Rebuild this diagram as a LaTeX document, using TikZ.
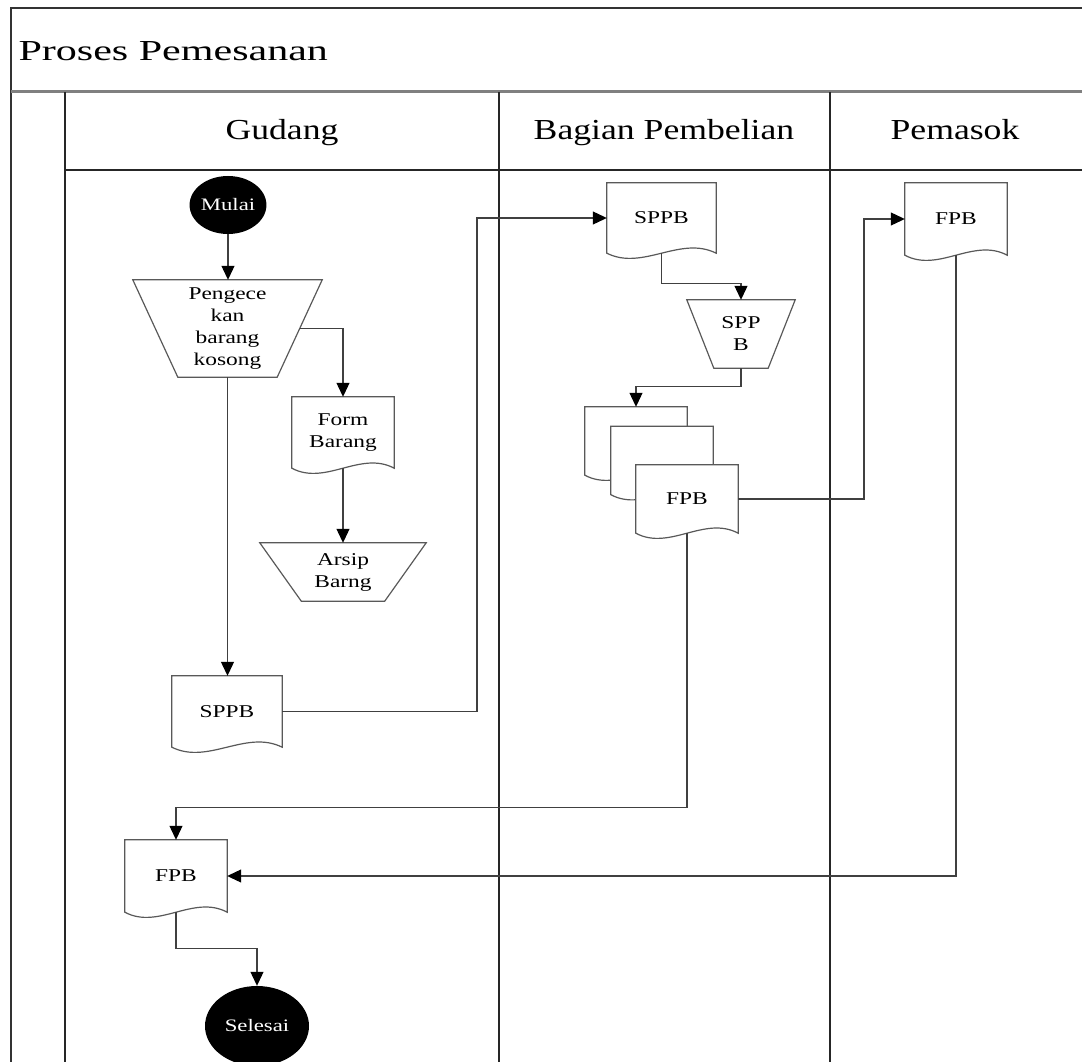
\documentclass[tikz,border=0pt]{standalone}
\usepackage{fontspec}
\setmainfont{Liberation Serif}[FakeStretch=1.3]
\newfontfamily\titlefont{Liberation Serif}[FakeStretch=1.45]
\newfontfamily\headfont{Liberation Serif}[FakeStretch=1.23]
\usetikzlibrary{arrows.meta,calc,shapes.geometric,backgrounds}
\tikzset{
  shp/.style={draw=black!65, line width=1.2pt},
  box/.style={inner sep=0pt, align=center, font=\fontsize{18}{22}\selectfont},
  conn/.style={draw=black!75, line width=1.1pt, -{Triangle[length=14pt,width=13pt,color=black]}},
  lane/.style={draw=black!85, line width=2pt},
  term/.style={ellipse, fill=black, text=white, inner sep=0pt, font=\fontsize{17.5}{20}\selectfont},
  head/.style={anchor=base, font=\headfont\fontsize{29}{31}\selectfont},
}
\newcommand\docout[1]{\draw[shp, fill=white] (#1.north west) -- (#1.south west)
  .. controls ($(#1.south west)!0.33!(#1.south east)+(0,18)$) and ($(#1.south west)!0.67!(#1.south east)+(0,-18)$) .. (#1.south east)
  -- (#1.north east) -- cycle;}
\newcommand\trapout[2]{\draw[shp] (#1.north west) -- (#1.north east) -- ($(#1.south east)+(-#2,0)$) -- ($(#1.south west)+(#2,0)$) -- cycle;}
\begin{document}
\begin{tikzpicture}[x=1pt,y=-1pt]
\useasboundingbox (0,0) rectangle (1082,1062);
\clip (0,0) rectangle (1082,1062);
% frame and lanes
\draw[draw=black!80, line width=1.5pt] (11,1062) -- (11,8) -- (1082,8);
\draw[draw=black!50, line width=3pt] (11,92) -- (1082,92);
\draw[lane] (65,92) -- (65,1062);
\draw[lane] (499,92) -- (499,1062);
\draw[lane] (830,92) -- (830,1062);
\draw[draw=black!85, line width=1.5pt] (65,170) -- (1082,170);
% titles
\node[anchor=base west, font=\titlefont\fontsize{29}{31}\selectfont] (title) at (15,61) {Proses Pemesanan};
\node[head] (hG) at (282,140) {Gudang};
\node[head] (hB) at (664,140) {Bagian Pembelian};
\node[head] (hP) at (955,140) {Pemasok};
% nodes
\node[term, minimum width=74pt, minimum height=58pt] (mulai) at (228,205) {Mulai};
\node[box, minimum width=189pt, minimum height=97pt] (peng) at (227.5,328.5) {Pengece\\kan\\barang\\kosong};
\node[box, minimum width=102pt, minimum height=71pt] (formB) at (343,432.5) {Form\\Barang};
\node[box, minimum width=166pt, minimum height=58pt] (arsip) at (343,572) {Arsip\\Barng};
\node[box, minimum width=110pt, minimum height=71pt] (sppbG) at (227,711.5) {SPPB};
\node[box, minimum width=109pt, minimum height=70pt] (sppbP) at (661.5,218) {SPPB};
\node[box, minimum width=108pt, minimum height=68pt] (sppbT) at (741,334) {SPP\\B};
\node[box, minimum width=102pt, minimum height=68pt] (fpb1) at (636,441) {};
\node[box, minimum width=102pt, minimum height=68pt] (fpb2) at (662,460.5) {};
\node[box, minimum width=102pt, minimum height=68pt] (fpb3) at (687,499) {FPB};
\node[box, minimum width=102pt, minimum height=72pt] (fpbS) at (956,219) {FPB};
\node[box, minimum width=102pt, minimum height=72pt] (fpbG) at (176,876) {FPB};
\node[term, minimum width=104pt, minimum height=80pt] (sel) at (257,1026) {Selesai};
% outlines
\begin{scope}[on background layer]
\docout{formB}
\docout{sppbG}
\docout{sppbP}
\docout{fpb1}
\docout{fpb2}
\docout{fpb3}
\docout{fpbS}
\docout{fpbG}
\end{scope}
\trapout{peng}{45}
\trapout{arsip}{41.5}
\trapout{sppbT}{27}
% connectors
\coordinate (k1) at (477,0);
\coordinate (k3) at (864,0);
\draw[conn] (mulai.south) -- (mulai.south |- peng.north);
\draw[conn] ($(peng.east)+(-22.5,0)$) -| (formB.north);
\draw[conn] (formB.south) -- (arsip.north);
\draw[conn] (peng.south) -- (peng.south |- sppbG.north);
\draw[conn] (sppbG.east) -- (sppbG.east -| k1) -- (k1 |- sppbP.west) -- (sppbP.west);
\draw[conn] (sppbP.south) |- ($(sppbT.north)+(0,-16)$) -- (sppbT.north);
\draw[conn] (sppbT.south) -- ++(0,18) -| (fpb1.north);
\draw[conn] (fpb3.east) -- (fpb3.east -| k3) -- (k3 |- fpbS.west) -- (fpbS.west);
\draw[conn] (fpb3.south) |- ($(fpbG.north)+(0,-32)$) -- (fpbG.north);
\draw[conn] (fpbS.south) |- (fpbG.east);
\draw[conn] (fpbG.south) |- ($(sel.north)+(0,-37)$) -- (sel.north);
\end{tikzpicture}
\end{document}
